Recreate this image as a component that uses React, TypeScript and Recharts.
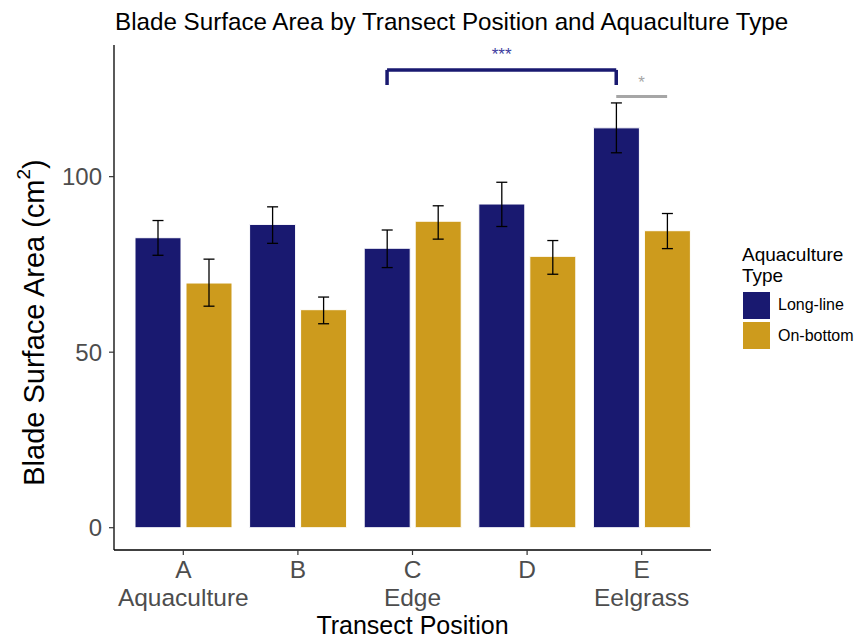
import React from 'react';
import { BarChart, Bar, XAxis, YAxis, ErrorBar, ReferenceLine, ReferenceDot, Label } from 'recharts';

const positions = ['A', 'B', 'C', 'D', 'E'];
const positionNames = ['Aquaculture', '', 'Edge', '', 'Eelgrass'];
const longLine = [82.6, 86.4, 79.6, 92.2, 113.9];
const longLineLow = [77.6, 81.0, 74.1, 85.8, 106.8];
const longLineHigh = [87.5, 91.4, 84.8, 98.4, 121.0];
const onBottom = [69.7, 62.1, 87.3, 77.3, 84.6];
const onBottomLow = [63.1, 58.1, 82.2, 72.2, 79.5];
const onBottomHigh = [76.5, 65.7, 91.7, 81.8, 89.5];
const yTicks = [0, 50, 100];
const seriesNames = ['Long-line', 'On-bottom'];
const seriesColors = ['#191970', '#CD9B1D'];

// significance annotations (group index 1-based, dodge side, y values)
const dodge = 0.222;
const bracketMain = { from: 3, to: 5, y: 130.4, tip: 126.1, label: '***', labelY: 134.8 };
const bracketSmall = { at: 5, y: 122.8, label: '*', labelY: 126.8 };

const data = positions.map((p, i) => ({
  pos: p,
  idx: i + 1,
  ll: longLine[i],
  llErr: [longLine[i] - longLineLow[i], longLineHigh[i] - longLine[i]],
  ob: onBottom[i],
  obErr: [onBottom[i] - onBottomLow[i], onBottomHigh[i] - onBottom[i]],
}));

const FONT = '"Liberation Sans", Arial, sans-serif';

const XTick = (props: any) => {
  const { x, y, payload, index } = props;
  return (
    <text x={x} y={y} textAnchor="middle" fill="#4D4D4D" fontSize={24.5} fontFamily={FONT}>
      <tspan x={x} dy={21}>{payload.value}</tspan>
      <tspan x={x} dy={28}>{positionNames[index]}</tspan>
    </text>
  );
};

const YLabel = (props: any) => {
  const { viewBox } = props;
  const cx = 34;
  const cy = viewBox.y + viewBox.height / 2 + 25;
  return (
    <text
      x={cx}
      y={cy}
      transform={`rotate(-90, ${cx}, ${cy})`}
      textAnchor="middle"
      dominantBaseline="central"
      fontSize={29}
      fill="#000"
      fontFamily={FONT}
    >
      Blade Surface Area (cm
      <tspan baselineShift="super" fontSize={19}>2</tspan>
      <tspan>)</tspan>
    </text>
  );
};

const TextMark = (color: string, text: string, size: number) => (p: any) => (
  <text x={p.cx} y={p.cy} textAnchor="middle" dominantBaseline="central" fill={color} fontSize={size} fontFamily={FONT}>
    {text}
  </text>
);

export default function App() {
  return (
    <div style={{ position: 'absolute', left: 0, top: 0, width: 855, height: 638, background: '#fff', fontFamily: FONT }}>
      <div style={{ position: 'absolute', left: 115, top: 8, fontSize: 24.2, color: '#000', whiteSpace: 'nowrap', lineHeight: '28px' }}>
        Blade Surface Area by Transect Position and Aquaculture Type
      </div>
      <BarChart
        width={855}
        height={638}
        data={data}
        margin={{ top: 45, right: 144, bottom: 0, left: 0 }}
        barCategoryGap={9}
        barGap={5}
      >
        <XAxis
          dataKey="pos"
          height={88}
          padding={{ left: 12, right: 12 }}
          tick={<XTick />}
          tickLine={{ stroke: '#333', strokeWidth: 1.2 }}
          tickSize={5}
          axisLine={{ stroke: '#000', strokeWidth: 1.3 }}
          interval={0}
        >
          <Label value="Transect Position" position="insideBottom" offset={4} fontSize={25} fill="#000" fontFamily={FONT} />
        </XAxis>
        <XAxis xAxisId="num" dataKey="idx" type="number" domain={[0.395, 5.605]} hide allowDataOverflow />
        <YAxis
          width={114}
          domain={[-6.35, 137.5]}
          ticks={yTicks}
          allowDataOverflow
          tick={{ fill: '#4D4D4D', fontSize: 24, fontFamily: FONT }}
          tickLine={{ stroke: '#333', strokeWidth: 1.2 }}
          tickSize={5}
          tickMargin={7}
          axisLine={{ stroke: '#000', strokeWidth: 1.3 }}
        >
          <Label content={<YLabel />} />
        </YAxis>
        <Bar dataKey="ll" name={seriesNames[0]} fill={seriesColors[0]} stroke="#fff" strokeWidth={1} isAnimationActive={false}>
          <ErrorBar dataKey="llErr" width={5.5} stroke="#000" strokeWidth={1.3} />
        </Bar>
        <Bar dataKey="ob" name={seriesNames[1]} fill={seriesColors[1]} stroke="#fff" strokeWidth={1} isAnimationActive={false}>
          <ErrorBar dataKey="obErr" width={5.5} stroke="#000" strokeWidth={1.3} />
        </Bar>
        <ReferenceLine
          xAxisId="num"
          segment={[{ x: bracketMain.from - dodge, y: bracketMain.y }, { x: bracketMain.to - dodge, y: bracketMain.y }]}
          stroke="#191970"
          strokeWidth={3.5}
          ifOverflow="visible"
        />
        <ReferenceLine
          xAxisId="num"
          segment={[{ x: bracketMain.from - dodge, y: bracketMain.tip }, { x: bracketMain.from - dodge, y: bracketMain.y }]}
          stroke="#191970"
          strokeWidth={3.5}
          ifOverflow="visible"
        />
        <ReferenceLine
          xAxisId="num"
          segment={[{ x: bracketMain.to - dodge, y: bracketMain.tip }, { x: bracketMain.to - dodge, y: bracketMain.y }]}
          stroke="#191970"
          strokeWidth={3.5}
          ifOverflow="visible"
        />
        <ReferenceLine
          xAxisId="num"
          segment={[{ x: bracketSmall.at - dodge, y: bracketSmall.y }, { x: bracketSmall.at + dodge, y: bracketSmall.y }]}
          stroke="#A6A6A6"
          strokeWidth={3}
          ifOverflow="visible"
        />
        <ReferenceDot
          xAxisId="num"
          x={(bracketMain.from + bracketMain.to) / 2 - dodge}
          y={bracketMain.labelY}
          r={0}
          ifOverflow="visible"
          shape={TextMark('#3D3D9E', bracketMain.label, 17)}
        />
        <ReferenceDot
          xAxisId="num"
          x={bracketSmall.at}
          y={bracketSmall.labelY}
          r={0}
          ifOverflow="visible"
          shape={TextMark('#A6A6A6', bracketSmall.label, 17)}
        />
      </BarChart>
      <div style={{ position: 'absolute', left: 742, top: 244, color: '#000' }}>
        <div style={{ fontSize: 19, lineHeight: '21px' }}>Aquaculture<br />Type</div>
        <div style={{ marginTop: 4 }}>
          {seriesNames.map((n, i) => (
            <div key={n} style={{ display: 'flex', alignItems: 'center', height: 30.5 }}>
              <div style={{ width: 29, height: 29, background: seriesColors[i], border: '0.75px solid #fff', boxSizing: 'border-box' }} />
              <span style={{ marginLeft: 7, fontSize: 16 }}>{n}</span>
            </div>
          ))}
        </div>
      </div>
    </div>
  );
}
